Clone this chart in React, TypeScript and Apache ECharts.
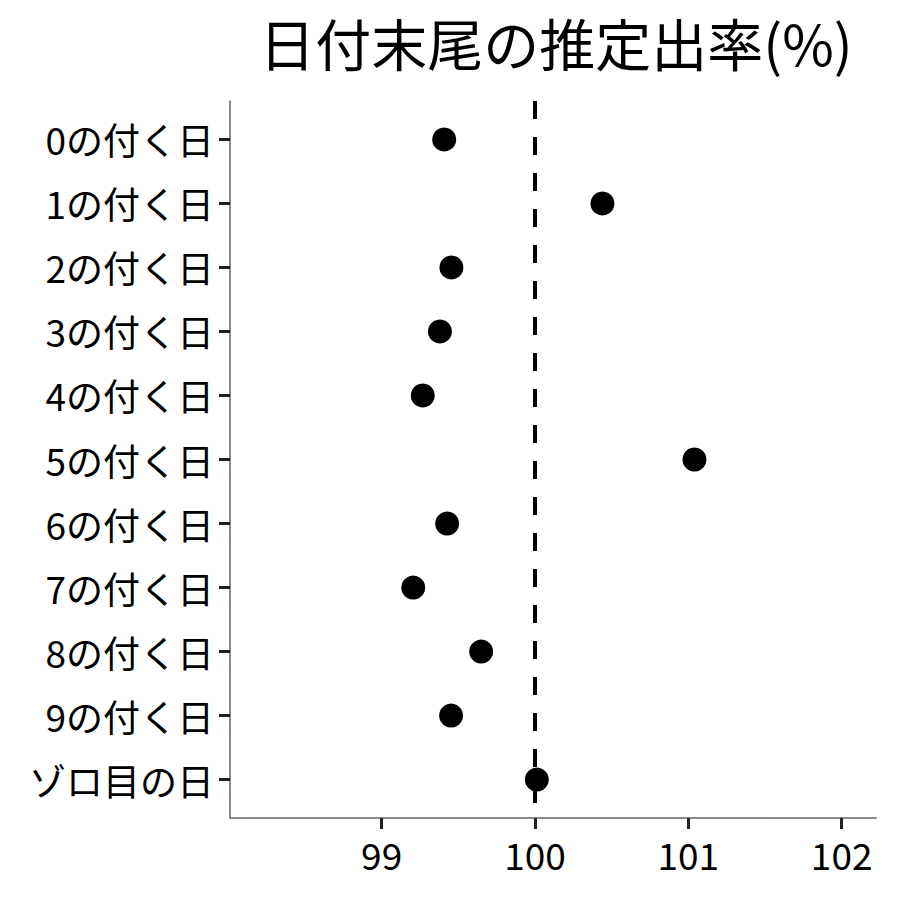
import React, { useEffect, useRef } from "react";
import * as echarts from "echarts";

const TITLE = "日付末尾の推定出率(%)";
const categories = [
  "0の付く日",
  "1の付く日",
  "2の付く日",
  "3の付く日",
  "4の付く日",
  "5の付く日",
  "6の付く日",
  "7の付く日",
  "8の付く日",
  "9の付く日",
  "ゾロ目の日",
];
const rates = [99.408, 100.44, 99.455, 99.38, 99.268, 101.04, 99.427, 99.206, 99.649, 99.453, 100.012];
const xTicks = [99, 100, 101, 102];
const referenceValue = 100;

const FONT = "'Noto Sans CJK JP', 'Noto Sans', sans-serif";

export default function App() {
  const ref = useRef<HTMLDivElement>(null);
  useEffect(() => {
    if (!ref.current) return;
    const chart = echarts.init(ref.current, undefined, { renderer: "svg" });
    const yIdx = categories.map((_, i) => i);
    chart.setOption({
      animation: false,
      backgroundColor: "#ffffff",
      textStyle: { fontFamily: FONT },
      title: {
        text: TITLE,
        left: 551,
        top: 8,
        textAlign: "center",
        textStyle: { fontFamily: FONT, fontSize: 56, fontWeight: "normal", color: "#000" },
      },
      grid: { left: 230, right: 24, top: 101, bottom: 82, containLabel: false },
      xAxis: {
        type: "value",
        min: 98.011,
        max: 102.224,
        splitLine: { show: false },
        axisLine: { show: true, onZero: false, lineStyle: { color: "#666", width: 1.5 } },
        axisTick: { show: true, length: 11, customValues: xTicks, lineStyle: { color: "#222", width: 3 } },
        axisLabel: {
          customValues: xTicks,
          margin: 17,
          fontSize: 37,
          color: "#000",
          fontFamily: FONT,
          formatter: (v: number) => String(Math.round(v)),
        },
      },
      yAxis: {
        type: "value",
        inverse: true,
        min: -0.6,
        max: 10.6,
        splitLine: { show: false },
        axisLine: { show: true, onZero: false, lineStyle: { color: "#666", width: 1.5 } },
        axisTick: { show: true, length: 11, customValues: yIdx, lineStyle: { color: "#222", width: 3 } },
        axisLabel: {
          customValues: yIdx,
          margin: 16,
          fontSize: 37,
          color: "#000",
          fontFamily: FONT,
          formatter: (v: number) => categories[Math.round(v)] ?? "",
        },
      },
      series: [
        {
          type: "scatter",
          symbol: "circle",
          symbolSize: 24,
          itemStyle: { color: "#000", opacity: 1 },
          data: rates.map((r, i) => [r, i]),
          markLine: {
            silent: true,
            symbol: "none",
            label: { show: false },
            lineStyle: { color: "#000", width: 4, type: [18, 18], opacity: 1 },
            data: [{ xAxis: referenceValue }],
          },
          z: 3,
        },
      ],
    });
    return () => chart.dispose();
  }, []);
  return (
    <div
      ref={ref}
      style={{ position: "fixed", left: 0, top: 0, width: 900, height: 900, background: "#fff" }}
    />
  );
}
